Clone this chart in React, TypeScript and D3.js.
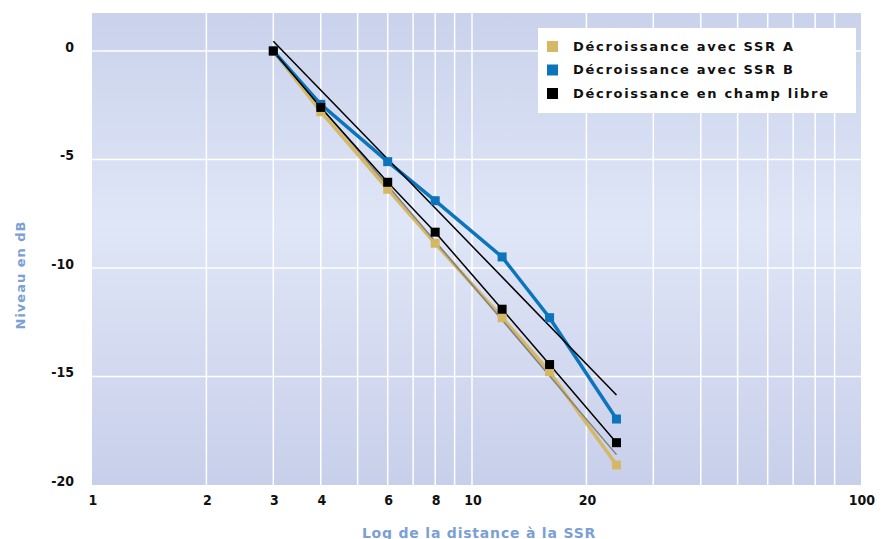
import React, { useEffect, useRef } from 'react';
import * as d3 from 'd3';

// distances (m) where the levels were measured
const distances = [3, 4, 6, 8, 12, 16, 24];
const ssrA = [0, -2.8, -6.37, -8.86, -12.29, -14.78, -19.08];
const ssrB = [0, -2.46, -5.1, -6.9, -9.49, -12.29, -16.96];
const champLibre = [0, -2.6, -6.05, -8.35, -11.9, -14.45, -18.05];

// thin trend lines, two end points each
const trendDist = [3, 24];
const trendB = [0.45, -15.85];
const trendA = [0, -18.6];

const xTicks = [1, 2, 3, 4, 6, 8, 10, 20, 100];
const xGrid = [2, 3, 4, 5, 6, 7, 8, 9, 10, 20, 30, 40, 50, 60, 70, 80, 90];
const yTicks = [0, -5, -10, -15, -20];

const legendNames = ['Décroissance avec SSR A', 'Décroissance avec SSR B', 'Décroissance en champ libre'];
const legendColors = ['#d4b865', '#0b74bb', '#000000'];

const W = 885, H = 539;
const left = 92, right = 861, top = 13, bottom = 485;

export default function App() {
    const ref = useRef<SVGSVGElement>(null);

    useEffect(() => {
        const svg = d3.select(ref.current);
        svg.selectAll('*').remove();

        const x = d3.scaleLog().domain([1, 105.6]).range([left, right]);
        const y = d3.scaleLinear().domain([-20, 1.75]).range([bottom, top]);

        const defs = svg.append('defs');
        const grad = defs.append('linearGradient')
            .attr('id', 'bg').attr('x1', 0).attr('y1', 0).attr('x2', 0).attr('y2', 1);
        grad.append('stop').attr('offset', '0%').attr('stop-color', '#cad2ec');
        grad.append('stop').attr('offset', '45%').attr('stop-color', '#dfe6f7');
        grad.append('stop').attr('offset', '100%').attr('stop-color', '#c8cfea');

        svg.append('rect')
            .attr('x', left).attr('y', top)
            .attr('width', right - left).attr('height', bottom - top)
            .attr('fill', 'url(#bg)');

        // grid
        svg.append('g')
            .selectAll('line')
            .data(xGrid)
            .join('line')
                .attr('x1', d => x(d)).attr('x2', d => x(d))
                .attr('y1', top).attr('y2', bottom)
                .attr('stroke', '#fff').attr('stroke-width', 1.5);
        svg.append('g')
            .selectAll('line')
            .data(yTicks.filter(d => d > -20))
            .join('line')
                .attr('x1', left).attr('x2', right)
                .attr('y1', d => y(d)).attr('y2', d => y(d))
                .attr('stroke', '#fff').attr('stroke-width', 1.5);

        const tickFont = '"Liberation Sans Narrow", "DejaVu Sans Condensed", sans-serif';
        const titleFont = '"DejaVu Sans", Verdana, sans-serif';

        // y axis labels
        svg.append('g')
            .selectAll('text')
            .data(yTicks)
            .join('text')
                .attr('x', 74)
                .attr('y', d => y(d) - 4)
                .attr('dy', '0.35em')
                .attr('text-anchor', 'end')
                .attr('font-family', tickFont)
                .attr('font-weight', 'bold')
                .attr('font-size', 14)
                .attr('fill', '#111')
                .text(d => d);

        // x axis labels
        svg.append('g')
            .selectAll('text')
            .data(xTicks)
            .join('text')
                .attr('x', d => d === 100 ? x(d) + 10 : x(d) + 1)
                .attr('y', 500)
                .attr('dy', '0.35em')
                .attr('text-anchor', 'middle')
                .attr('font-family', tickFont)
                .attr('font-weight', 'bold')
                .attr('font-size', 14)
                .attr('fill', '#111')
                .text(d => d);

        const line = d3.line<number>()
            .x((d, i) => x(distances[i]))
            .y(d => y(d));
        const trend = d3.line<number>()
            .x((d, i) => x(trendDist[i]))
            .y(d => y(d));

        svg.append('path').datum(ssrA).attr('d', line)
            .attr('fill', 'none').attr('stroke', legendColors[0]).attr('stroke-width', 3.5);
        svg.append('path').datum(trendA).attr('d', trend)
            .attr('fill', 'none').attr('stroke', '#808080').attr('stroke-width', 1.5);
        svg.append('path').datum(ssrB).attr('d', line)
            .attr('fill', 'none').attr('stroke', legendColors[1]).attr('stroke-width', 3.5);
        svg.append('path').datum(champLibre).attr('d', line)
            .attr('fill', 'none').attr('stroke', '#000').attr('stroke-width', 1.5);
        svg.append('path').datum(trendB).attr('d', trend)
            .attr('fill', 'none').attr('stroke', '#000').attr('stroke-width', 1.5);

        const marks = (data: number[], color: string) => {
            svg.append('g')
                .selectAll('rect')
                .data(data)
                .join('rect')
                    .attr('x', (d, i) => x(distances[i]) - 4.5)
                    .attr('y', d => y(d) - 4.5)
                    .attr('width', 9).attr('height', 9)
                    .attr('fill', color);
        };
        marks(ssrA, legendColors[0]);
        marks(ssrB, legendColors[1]);
        marks(champLibre, legendColors[2]);

        // legend
        const lg = svg.append('g');
        lg.append('rect')
            .attr('x', 538).attr('y', 28).attr('width', 318).attr('height', 85)
            .attr('fill', '#fff');
        legendNames.forEach((name, i) => {
            const cy = 46 + i * 23.5;
            lg.append('rect')
                .attr('x', 547).attr('y', cy - 5).attr('width', 11).attr('height', 11)
                .attr('fill', legendColors[i]);
            lg.append('text')
                .attr('x', 573).attr('y', cy)
                .attr('dy', '0.35em')
                .attr('font-family', titleFont)
                .attr('font-weight', 'bold')
                .attr('font-size', 13)
                .attr('letter-spacing', 1.7)
                .attr('fill', '#111')
                .text(name);
        });

        // axis titles
        svg.append('text')
            .attr('transform', 'translate(25, 275) rotate(-90)')
            .attr('text-anchor', 'middle')
            .attr('font-family', titleFont)
            .attr('font-weight', 'bold')
            .attr('font-size', 13)
            .attr('letter-spacing', 1)
            .attr('fill', '#7ba0d5')
            .text('Niveau en dB');
        svg.append('text')
            .attr('x', 479).attr('y', 538)
            .attr('text-anchor', 'middle')
            .attr('font-family', titleFont)
            .attr('font-weight', 'bold')
            .attr('font-size', 14)
            .attr('letter-spacing', 0.8)
            .attr('fill', '#7ba0d5')
            .text('Log de la distance à la SSR');
    }, []);

    return (
        <svg ref={ref} width={W} height={H}
            style={{ position: 'absolute', left: 0, top: 0, background: '#fff' }} />
    );
}
